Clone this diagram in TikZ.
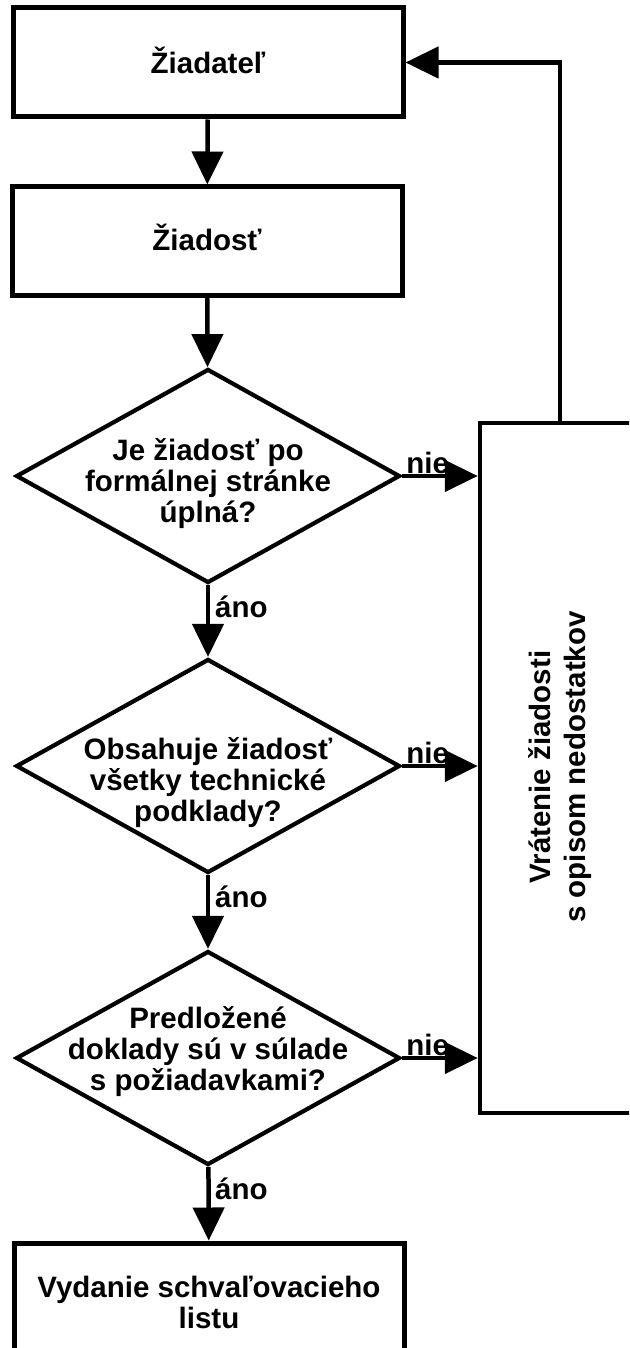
\documentclass[tikz,border=0pt]{standalone}
\usepackage{fontspec}
\setmainfont{Liberation Sans}
\usetikzlibrary{shapes.geometric,arrows.meta}
\begin{document}
\begin{tikzpicture}[x=1pt,y=-1pt,
  box/.style={draw,line width=5pt,rectangle,minimum width=390pt,inner sep=0pt,align=center},
  dec/.style={draw,line width=4.2pt,diamond,minimum width=384pt,minimum height=214pt,inner sep=0pt},
  txt/.style={font=\fontsize{29.5}{31}\selectfont\bfseries,align=center,inner sep=0pt},
  conn/.style={line width=4.5pt,-{Triangle[length=33pt,width=31pt]}},
  lbl/.style={font=\fontsize{29.5}{31}\selectfont\bfseries,inner sep=0pt}
]
\useasboundingbox (0,0) rectangle (629,1348);
\clip (0,0) rectangle (629,1348);

\node[box,minimum height=109pt] (b1) at (208,62.5) {};
\node[txt] (b1t) at (208,60) {Žiadateľ};
\node[box,minimum height=108pt] (b2) at (207,241) {};
\node[txt] (b2t) at (207,237) {Žiadosť};

\node[dec] (d1) at (208,476) {};
\node[txt] (d1t) at (208,484) {Je žiadosť po\\formálnej stránke\\úplná?};
\node[dec] (d2) at (208,766) {};
\node[txt] (d2t) at (208,783) {Obsahuje žiadosť\\všetky technické\\podklady?};
\node[dec] (d3) at (208,1058) {};
\node[txt] (d3t) at (208,1052) {Predložené\\doklady sú v súlade\\s požiadavkami?};

\node[box,minimum height=118pt] (b3) at (209,1302) {};
\node[txt] (b3t) at (209,1302) {Vydanie schvaľovacieho\\listu};

\node[draw,line width=4.5pt,rectangle,minimum width=160pt,minimum height=690pt,inner sep=0pt] (rb) at (560,768) {};
\node[txt,rotate=90,font=\fontsize{29.5}{35}\selectfont\bfseries] (rbt) at (560,767) {Vrátenie žiadosti\\s opisom nedostatkov};

\draw[conn] (b1) -- (b2);
\draw[conn] (b2) -- (d1);
\draw[conn] (d1) -- (d2);
\draw[conn] (d2) -- (d3);
\draw[conn] (d3) -- (b3);

\draw[conn] (d1.east) -- (d1.east -| rb.west);
\draw[conn] (d2.east) -- (d2.east -| rb.west);
\draw[conn] (d3.east) -- (d3.east -| rb.west);
\draw[conn] (rb.north) |- (b1.east);

\node[lbl,anchor=base west] (n1) at ([xshift=4pt,yshift=3pt]d1.east) {nie};
\node[lbl,anchor=base west] (n2) at ([xshift=4pt,yshift=3pt]d2.east) {nie};
\node[lbl,anchor=base west] (n3) at ([xshift=4pt,yshift=3pt]d3.east) {nie};
\node[lbl,anchor=west] (a1) at ([xshift=7pt,yshift=-22pt]d1.south) {áno};
\node[lbl,anchor=west] (a2) at ([xshift=7pt,yshift=-22pt]d2.south) {áno};
\node[lbl,anchor=west] (a3) at ([xshift=7pt,yshift=-22pt]d3.south) {áno};
\end{tikzpicture}
\end{document}
